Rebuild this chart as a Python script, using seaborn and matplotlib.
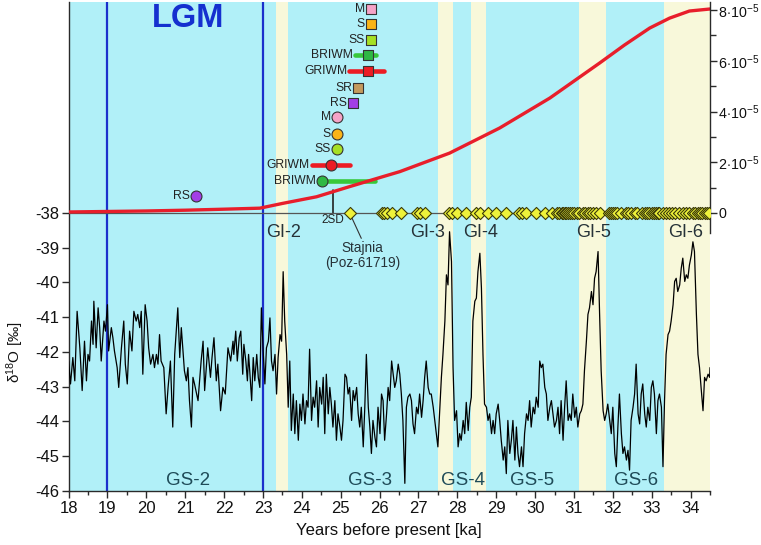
import numpy as np
import matplotlib
matplotlib.use("Agg")
import matplotlib.pyplot as plt
import seaborn as sns
from matplotlib.ticker import FixedLocator, MultipleLocator

# ---------------- data ----------------
ages = [18.00, 18.05, 18.11, 18.16, 18.22, 18.29, 18.35, 18.41, 18.46, 18.50, 18.54, 18.59, 18.63, 18.65,
        18.71, 18.76, 18.80, 18.84, 18.91, 18.95, 19.00, 19.03, 19.10, 19.14, 19.18, 19.25, 19.29, 19.36,
        19.42, 19.46, 19.51, 19.57, 19.63, 19.68, 19.74, 19.78, 19.83, 19.87, 19.91, 19.97, 20.02, 20.06,
        20.11, 20.17, 20.21, 20.26, 20.30, 20.34, 20.38, 20.45, 20.51, 20.56, 20.62, 20.68, 20.73, 20.81,
        20.86, 20.90, 20.98, 21.03, 21.07, 21.11, 21.16, 21.20, 21.24, 21.33, 21.41, 21.46, 21.50, 21.58,
        21.65, 21.69, 21.74, 21.80, 21.84, 21.91, 21.97, 22.03, 22.10, 22.17, 22.23,
        22.25, 22.30, 22.34, 22.39, 22.43, 22.48, 22.51, 22.56, 22.60, 22.63, 22.66, 22.71, 22.75, 22.79,
        22.84, 22.88, 22.92, 22.96, 23.01, 23.05, 23.09, 23.14, 23.18, 23.22, 23.26, 23.31, 23.35, 23.39,
        23.44, 23.48, 23.52, 23.56, 23.61, 23.65, 23.69, 23.73, 23.78, 23.82, 23.86, 23.91, 23.95, 23.99,
        24.03, 24.08, 24.12, 24.16, 24.20, 24.25, 24.29, 24.33, 24.38, 24.42, 24.46, 24.51, 24.55, 24.59,
        24.63, 24.68, 24.72, 24.76, 24.80, 24.85, 24.89, 24.93, 24.98, 25.02, 25.06, 25.11, 25.15, 25.19,
        25.23, 25.28, 25.32, 25.36, 25.41, 25.45, 25.49, 25.53, 25.58, 25.62, 25.66, 25.71, 25.75, 25.79,
        25.83, 25.88, 25.92, 25.96, 26.01, 26.05, 26.09, 26.13, 26.18, 26.22, 26.26, 26.31, 26.35, 26.39,
        26.43, 26.48, 26.52, 26.56, 26.60, 26.65, 26.69, 26.73, 26.78, 26.82, 26.86, 26.90, 26.95, 26.99,
        27.03, 27.08, 27.12, 27.16, 27.20, 27.25, 27.29, 27.33, 27.38, 27.42, 27.46, 27.50, 27.55, 27.59,
        27.63, 27.68, 27.72, 27.76, 27.80, 27.85, 27.89, 27.93, 27.98, 28.02, 28.06, 28.10, 28.15, 28.19,
        28.23, 28.28, 28.32, 28.36, 28.40, 28.45, 28.49, 28.53, 28.58, 28.62, 28.66, 28.70, 28.75, 28.79,
        28.83, 28.88, 28.92, 28.96, 29.00, 29.05, 29.09, 29.13, 29.18, 29.22, 29.26, 29.30, 29.35, 29.39,
        29.43, 29.48, 29.52, 29.56, 29.60, 29.65, 29.69, 29.73, 29.78, 29.82, 29.86, 29.90, 29.95, 29.99,
        30.03, 30.08, 30.12, 30.16, 30.20, 30.25, 30.29, 30.33, 30.38, 30.42, 30.46, 30.50,
        30.55, 30.59, 30.63, 30.67, 30.72, 30.76, 30.80, 30.85, 30.89, 30.93, 30.97, 31.02, 31.06, 31.10,
        31.15, 31.19, 31.23, 31.27, 31.32, 31.36, 31.40, 31.45, 31.49, 31.53, 31.57, 31.62, 31.66, 31.70,
        31.75, 31.79, 31.83, 31.87, 31.92, 31.96, 32.00, 32.05, 32.09, 32.13, 32.17, 32.22, 32.26, 32.30,
        32.35, 32.39, 32.43, 32.47, 32.52, 32.56, 32.60, 32.65, 32.69, 32.73, 32.77, 32.82, 32.86, 32.90,
        32.95, 32.99, 33.03, 33.07, 33.12, 33.16, 33.20, 33.25, 33.29, 33.33, 33.37, 33.42, 33.46, 33.50,
        33.55, 33.59, 33.63, 33.67, 33.72, 33.76, 33.80, 33.85, 33.89, 33.93, 33.97, 34.02, 34.06, 34.10,
        34.15, 34.19, 34.23, 34.27, 34.32, 34.36, 34.40, 34.45, 34.49, 34.50]

d18o = [-42.26, -42.92, -42.16, -42.83, -40.83, -41.88, -43.11, -41.69, -42.83, -42.07, -42.26, -41.11, -41.78, -40.54,
        -41.88, -40.73, -41.30, -42.26, -41.11, -41.40, -40.64, -41.97, -41.30, -41.59, -41.97, -42.45, -43.02, -41.88,
        -41.11, -42.35, -42.92, -41.40, -41.97, -40.83, -41.11, -40.92, -41.30, -40.83, -42.64, -40.64, -41.11, -41.88,
        -42.35, -42.07, -42.45, -42.07, -42.35, -41.50, -42.26, -42.45, -43.78, -43.02, -42.26, -44.16, -42.07, -40.73,
        -42.16, -41.30, -42.54, -42.83, -42.45, -43.40, -44.16, -42.73, -42.92, -43.40, -42.26, -41.69, -43.11, -41.88,
        -42.73, -42.16, -41.59, -42.83, -42.35, -43.69, -43.02, -43.21, -41.88, -42.26, -41.69,
        -42.07, -41.40, -42.26, -41.59, -41.40, -42.64, -41.78, -42.26, -42.83, -42.07, -42.54, -43.40, -42.16, -42.83,
        -42.07, -42.73, -43.02, -40.73, -42.07, -42.92, -41.88, -41.69, -41.02, -42.26, -42.54, -42.07, -43.21, -42.16,
        -41.50, -41.69, -39.69, -41.11, -42.07, -43.59, -42.26, -44.26, -43.21, -44.35, -43.40, -44.54, -43.50, -43.97,
        -43.21, -44.07, -43.40, -43.59, -41.92, -43.97, -43.30, -43.59, -42.83, -44.16, -43.02, -43.50, -42.73, -44.35,
        -42.64, -43.78, -43.02, -43.50, -44.16, -43.40, -44.54, -43.78, -44.16, -44.54, -43.97, -42.64, -42.73, -43.21,
        -43.02, -43.97, -43.11, -43.40, -43.02, -43.78, -44.16, -43.59, -44.73, -43.59, -42.07, -43.59, -44.16, -44.92,
        -43.97, -44.45, -44.73, -43.59, -44.35, -43.21, -43.40, -44.54, -43.78, -43.02, -43.40, -42.26, -42.64, -43.02,
        -42.83, -42.35, -42.64, -43.21, -43.97, -45.78, -43.59, -43.30, -43.21, -43.40, -44.07, -44.35, -43.59, -43.78,
        -43.21, -43.88, -43.40, -42.73, -42.26, -43.02, -43.21, -43.21, -43.59, -43.97, -44.35, -44.73, -43.59, -42.73,
        -42.07, -41.11, -39.78, -40.07, -38.54, -39.40, -42.45, -43.97, -43.69, -44.73, -44.35, -44.54, -43.97, -44.35,
        -43.45, -44.26, -43.59, -43.30, -41.11, -40.54, -40.45, -39.69, -39.16, -40.16, -42.07, -43.50, -43.59, -43.97,
        -43.78, -44.35, -43.97, -44.35, -43.78, -43.50, -43.97, -44.54, -45.11, -44.73, -45.50, -43.97, -44.92, -44.54,
        -43.97, -45.11, -44.16, -44.92, -45.30, -44.73, -45.30, -44.35, -43.78, -43.97, -43.40, -44.16, -43.59, -43.78,
        -43.30, -43.59, -42.26, -42.45, -42.35, -43.02, -43.21, -43.97, -43.59, -43.40, -43.78, -44.16,
        -43.97, -43.59, -44.35, -43.40, -44.54, -43.59, -42.83, -43.97, -43.78, -43.97, -43.21, -43.88, -43.59, -44.16,
        -43.78, -43.69, -43.50, -42.54, -41.69, -40.92, -40.73, -40.26, -40.64, -39.88, -39.69, -39.11, -40.92, -42.54,
        -43.69, -43.97, -43.78, -43.50, -43.97, -44.35, -43.59, -44.92, -45.30, -44.16, -43.21, -44.35, -44.92, -44.73,
        -45.11, -44.83, -45.40, -43.97, -43.59, -43.21, -42.35, -43.78, -44.07, -43.21, -42.92, -43.78, -44.16, -43.59,
        -43.97, -43.02, -42.83, -43.21, -44.35, -43.40, -43.21, -43.59, -45.30, -43.40, -42.07, -41.50, -41.40, -41.11,
        -40.64, -39.97, -39.88, -40.26, -40.07, -39.59, -39.30, -39.97, -39.78, -39.88, -39.50, -39.21, -38.83, -39.11,
        -40.92, -42.07, -42.45, -43.02, -43.69, -42.73, -42.83, -42.64, -42.73, -42.45]

# red probability curve (right axis)
prob_age = [18.0, 19.0, 20.0, 21.0, 22.0, 22.92, 23.51, 24.38, 25.23, 26.08, 26.52, 27.80, 29.09,
            30.38, 31.66, 32.30, 32.95, 33.46, 33.97, 34.5]
prob_val = [0.04e-5, 0.06e-5, 0.08e-5, 0.11e-5, 0.15e-5, 0.19e-5, 0.38e-5, 0.64e-5, 1.04e-5, 1.43e-5,
            1.63e-5, 2.36e-5, 3.35e-5, 4.53e-5, 5.91e-5, 6.62e-5, 7.29e-5, 7.68e-5, 7.96e-5, 8.04e-5]

# radiocarbon dates (yellow diamonds on zero line)
date_ages = [25.23, 26.05, 26.12, 26.20, 26.33, 26.56, 26.97, 27.05, 27.16, 27.78, 27.87, 27.98, 28.23,
             28.49, 28.58, 28.79, 29.00, 29.26, 29.58, 29.66, 29.76, 30.03, 30.25, 30.44, 30.56, 30.62,
             30.68, 30.72, 30.76, 30.80, 30.85, 30.90, 30.95, 31.00, 31.08, 31.14, 31.22, 31.28, 31.35,
             31.42, 31.50, 31.58, 31.66, 31.90, 31.95, 32.00, 32.05, 32.12, 32.20, 32.34, 32.40, 32.48,
             32.56, 32.62, 32.76, 32.82, 32.88, 32.94, 33.00, 33.06, 33.10, 33.15, 33.20, 33.28, 33.36,
             33.44, 33.52, 33.60, 33.70, 33.80, 33.88, 33.96, 34.05, 34.12, 34.18, 34.24, 34.30, 34.36,
             34.42, 34.48]

# modelled ages
mod_labels = ['M', 'S', 'SS', 'BRIWM', 'GRIWM', 'SR', 'RS', 'M', 'S', 'SS', 'GRIWM', 'BRIWM', 'RS']
mod_age = [25.77, 25.77, 25.77, 25.70, 25.70, 25.45, 25.32, 24.91, 24.91, 24.91, 24.74, 24.51, 21.27]
mod_row = [-32.13, -32.57, -33.03, -33.46, -33.92, -34.39, -34.85, -35.25, -35.72, -36.15, -36.61, -37.08, -37.51]
mod_lo = [None, None, None, 25.36, 25.22, None, None, None, None, None, 24.25, 24.51, None]
mod_hi = [None, None, None, 25.92, 26.11, None, None, None, None, None, 25.25, 25.88, None]
mod_shape = ['s', 's', 's', 's', 's', 's', 's', 'o', 'o', 'o', 'o', 'o', 'o']
PINK, ORANGE, LGREEN, GREEN, RED, TAN, PURPLE = '#f5a3c7', '#fbb417', '#a6e024', '#2fb844', '#ec1c24', '#c49a5e', '#a33fe6'
mod_color = [PINK, ORANGE, LGREEN, GREEN, RED, TAN, PURPLE, PINK, ORANGE, LGREEN, RED, GREEN, PURPLE]

gi_names = ['GI-2', 'GI-3', 'GI-4', 'GI-5', 'GI-6']
gi_start = [23.33, 27.50, 28.34, 31.13, 33.31]
gi_end = [23.65, 27.90, 28.74, 31.82, 34.50]
gi_label_x = [23.54, 27.23, 28.60, 31.51, 33.87]
gs_names = ['GS-2', 'GS-3', 'GS-4', 'GS-5', 'GS-6']
gs_label_x = [21.08, 25.75, 28.15, 29.93, 32.59]

x_ticks = list(range(18, 35))
y_ticks = list(range(-46, -37))
r_ticks = [0, 2e-5, 4e-5, 6e-5, 8e-5]
r_tick_labels = ['0', r'$2\!\cdot\!10^{-5}$', r'$4\!\cdot\!10^{-5}$', r'$6\!\cdot\!10^{-5}$', r'$8\!\cdot\!10^{-5}$']

# ---------------- style ----------------
sns.set_theme(style='ticks')
plt.rcParams['font.family'] = ['Liberation Sans', 'DejaVu Sans']
plt.rcParams['mathtext.fontset'] = 'custom'
plt.rcParams['mathtext.rm'] = 'Liberation Sans'
plt.rcParams['mathtext.it'] = 'Liberation Sans:italic'
plt.rcParams['mathtext.bf'] = 'Liberation Sans:bold'

CYAN = '#b1f0f8'
CREAM = '#f8f8da'
SPINE = '#2a2a2a'

fig = plt.figure(figsize=(7.61, 5.45), dpi=100)
ax = fig.add_axes([0.0901, 0.0991, 0.8429, 0.8972])
ax.set_facecolor(CYAN)
ax.set_xlim(18, 34.5)
ax.set_ylim(-46, -31.93)

for s, e in zip(gi_start, gi_end):
    ax.axvspan(s, e, color=CREAM, lw=0, zorder=0.5)

for xv in (19, 23):
    ax.axvline(xv, color='#1b30cc', lw=1.6, zorder=1)

sns.lineplot(x=ages, y=d18o, ax=ax, color='black', linewidth=0.9, sort=False, estimator=None, zorder=3)

for name, xv in zip(gi_names, gi_label_x):
    ax.text(xv, -38.57, name, ha='center', va='center', fontsize=13, color='#263238', zorder=4)
for name, xv in zip(gs_names, gs_label_x):
    ax.text(xv, -45.71, name, ha='center', va='center', fontsize=13.5, color='#1f4b58', zorder=4)

ax.text(21.08, -32.39, 'LGM', ha='center', va='center', fontsize=23.5, fontweight='bold', color='#1530cf', zorder=4)

# modelled ages with error bars
for lab, a, r, lo, hi, shp, col in zip(mod_labels, mod_age, mod_row, mod_lo, mod_hi, mod_shape, mod_color):
    if lo is not None:
        ax.plot([lo, hi], [r, r], color=col if col != GREEN else '#38c83a', lw=3.3, solid_capstyle='round', zorder=5)
    size = 50 if shp == 's' else 62
    ax.scatter([a], [r], marker=shp, s=size, facecolor=col, edgecolor='#333333', linewidth=0.8, zorder=6)
    if lo is not None and lo < a - 0.01:
        ax.annotate(lab, xy=(lo, r), xytext=(-1.5, 0), textcoords='offset points',
                    ha='right', va='center', fontsize=8.7, color='#222222', zorder=7)
    else:
        ax.annotate(lab, xy=(a, r), xytext=(-4.3 if shp == 's' else -4.5, 0), textcoords='offset points',
                    ha='right', va='center', fontsize=8.7, color='#222222', zorder=7)

# 2SD marker
ax.plot([24.79, 24.79], [-37.35, -38.0], color='#222222', lw=1.2, zorder=5)
ax.text(24.80, -38.21, '2SD', ha='center', va='center', fontsize=8.5, color='#222222', zorder=5)

# Stajnia label with leader
ax.plot([25.23, 25.53], [-38.0, -38.73], color='#333333', lw=0.8, zorder=5)
ax.text(25.56, -39.22, 'Stajnia\n(Poz-61719)', ha='center', va='center', fontsize=9.8,
        linespacing=1.1, color='#263238', zorder=5)

# axes styling (left/bottom)
ax.set_xticks(x_ticks)
ax.xaxis.set_minor_locator(MultipleLocator(0.5))
ax.set_yticks(y_ticks)
ax.set_yticklabels([str(v) for v in y_ticks])
ax.tick_params(axis='both', which='major', direction='out', length=5, width=1, color=SPINE,
               labelsize=12, labelcolor='#111111')
ax.tick_params(axis='x', which='major', pad=2.5)
ax.tick_params(axis='y', which='major', pad=1.5)
ax.tick_params(axis='x', which='minor', direction='out', length=3, width=1, color=SPINE)
for side in ('top', 'right'):
    ax.spines[side].set_visible(False)
for side in ('left', 'bottom'):
    ax.spines[side].set_color(SPINE)
    ax.spines[side].set_linewidth(1.0)

ax.set_xlabel('Years before present [ka]', fontsize=12, color='#111111', labelpad=5)
ax.set_ylabel('δ$^{18}$O [‰]', fontsize=11, color='#111111')
ax.yaxis.set_label_coords(-0.066, 0.284)

# right axis
ax2 = ax.twinx()
ax2.set_ylim(-1.0956e-4, 8.315e-5)
ax2.axhline(0, color='#555555', lw=0.9, zorder=1)
sns.lineplot(x=prob_age, y=prob_val, ax=ax2, color='#e81e2b', linewidth=2.4, sort=False, estimator=None, zorder=2)
sns.scatterplot(x=date_ages, y=[0.0] * len(date_ages), ax=ax2, marker='D', s=38, color='#eef23a',
                edgecolor='#3b3b08', linewidth=0.8, zorder=3, legend=False)
ax2.set_xlim(18, 34.5)
ax2.set_yticks(r_ticks)
ax2.set_yticklabels(r_tick_labels)
ax2.yaxis.set_minor_locator(FixedLocator([1e-5, 3e-5, 5e-5, 7e-5]))
ax2.tick_params(axis='y', which='major', direction='out', length=5, width=1, color=SPINE,
                labelsize=10.3, labelcolor='#111111', pad=1.0)
ax2.tick_params(axis='y', which='minor', direction='out', length=4, width=1, color=SPINE)
for side in ('top', 'left', 'bottom'):
    ax2.spines[side].set_visible(False)
ax2.spines['right'].set_color(SPINE)
ax2.spines['right'].set_linewidth(1.0)
ax2.spines['right'].set_bounds(-0.8e-5, 8.315e-5)
ax2.set_ylabel('')
ax2.set_xlabel('')

fig.savefig('out.png', dpi=100)
